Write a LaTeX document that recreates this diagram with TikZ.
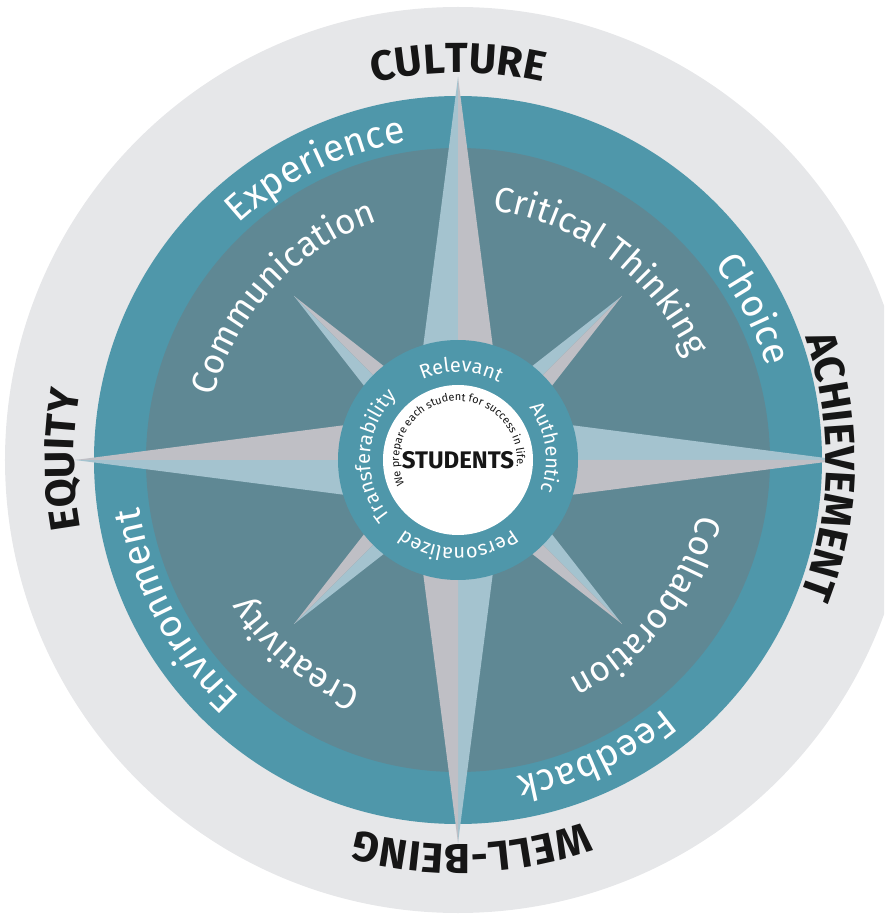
\documentclass[tikz,border=0pt]{standalone}
\usepackage{fontspec}
\setmainfont{Fira Sans}
\usetikzlibrary{decorations.text}

\definecolor{ringgray}{HTML}{E6E7E9}
\definecolor{bandteal}{HTML}{4F97AA}
\definecolor{slate}{HTML}{5F8894}
\definecolor{raylight}{HTML}{A4C3CF}
\definecolor{raygray}{HTML}{BFBFC5}
\definecolor{labelink}{HTML}{161616}

% fonts for the rings
\newcommand{\cornerfont}{\fontsize{42}{42}\selectfont\bfseries\color{labelink}}
\newcommand{\bandfont}{\fontsize{38}{38}\selectfont\color{white}}
\newcommand{\slatefont}{\fontsize{35}{35}\selectfont\color{white}}
\newcommand{\innerfont}{\fontsize{20}{20}\selectfont\color{white}}
\newcommand{\mottofont}{\fontsize{11}{11}\selectfont\color{labelink}}

% text on a clockwise arc: radius, middle angle, half span, font, text
\newcommand{\arclabel}[5]{%
  \path[decorate, decoration={text along path, text align=center,
      text={|#4|#5}}]
    (#2+#3:#1) arc[start angle=#2+#3, end angle=#2-#3, radius=#1];}

\begin{document}
\begin{tikzpicture}[x=1pt, y=1pt]
  \clip (-458,-458) rectangle (426,460);

  % Rings
  \fill[ringgray] (0,0) circle[radius=453];
  \fill[bandteal] (0,0) circle[radius=364];
  \fill[slate] (0,0) circle[radius=312];

  % Diagonal points
  \foreach \a in {45,135,225,315} {
    \fill[raylight] (0,0) -- (\a:232) -- (\a+45:36) -- cycle;
    \fill[raygray] (0,0) -- (\a:232) -- (\a-45:36) -- cycle;
  }

  % Main points
  \foreach \a in {90,0,-90,180} {
    \fill[raylight] (0,0) -- (\a:383) -- (\a+45:62) -- cycle;
    \fill[raygray] (0,0) -- (\a:383) -- (\a-45:62) -- cycle;
  }

  % Hub
  \fill[bandteal] (0,0) circle[radius=120];
  \fill[white] (0,0) circle[radius=75];
  \node[font=\fontsize{24}{24}\selectfont\bfseries, text=labelink] (students) at (0,0) {STUDENTS};

  % Outer words
  \arclabel{387}{90}{60}{\cornerfont}{CULTURE}
  \arclabel{368}{-1}{60}{\cornerfont}{ACHIEVEMENT}
  \arclabel{384}{-88}{60}{\cornerfont}{WELL-BEING}
  \arclabel{384}{180}{60}{\cornerfont}{EQUITY}

  % Teal band
  \arclabel{322}{116}{60}{\bandfont}{Experience}
  \arclabel{322}{27}{60}{\bandfont}{Choice}
  \arclabel{322}{-65}{60}{\bandfont}{Feedback}
  \arclabel{322}{208}{60}{\bandfont}{Environment}

  % Slate ring
  \arclabel{252}{137}{70}{\slatefont}{Communication}
  \arclabel{252}{53}{70}{\slatefont}{Critical Thinking}
  \arclabel{246}{-38}{70}{\slatefont}{Collaboration}
  \arclabel{250}{230}{70}{\slatefont}{Creativity}

  % Inner ring
  \arclabel{88}{88}{80}{\innerfont}{Relevant}
  \arclabel{88}{8}{80}{\innerfont}{Authentic}
  \arclabel{88}{-90}{80}{\innerfont}{Personalized}
  \arclabel{88}{177}{80}{\innerfont}{Transferability}

  % Motto
  \arclabel{59}{99}{170}{\mottofont}{We prepare each student for success in life.}
\end{tikzpicture}
\end{document}
